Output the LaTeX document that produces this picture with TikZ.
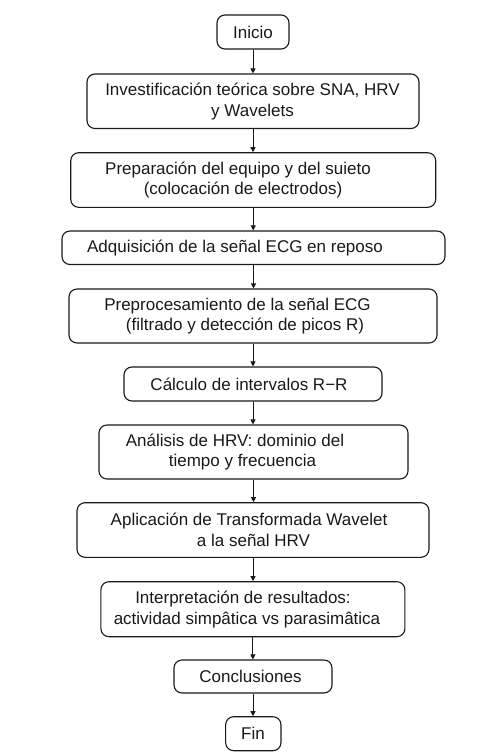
\documentclass[tikz,border=0pt]{standalone}
\usepackage{fontspec}
\setmainfont{Liberation Sans}
\usetikzlibrary{arrows.meta}
\begin{document}
\begin{tikzpicture}[x=1pt,y=-1pt,
  box/.style={draw=black!90,line width=1.1pt,rounded corners=8pt,inner sep=0pt},
  txt/.style={align=center,inner sep=0pt,font=\fontsize{17}{20.6}\selectfont,text=black!90},
  arr/.style={draw=black!90,line width=0.9pt,-{Triangle[length=5pt,width=5pt]}}]
\useasboundingbox (0,0) rectangle (504,756);
\fill[white] (0,0) rectangle (504,756);
% boxes
\node[box,minimum width=72pt,minimum height=34pt] (inicio) at (253,32) {};
\node[box,minimum width=332pt,minimum height=54.5pt] (b1) at (253,101.25) {};
\node[box,minimum width=365pt,minimum height=54.6pt] (b2) at (253.2,180) {};
\node[box,minimum width=383pt,minimum height=33.5pt] (b3) at (253.5,247.75) {};
\node[box,minimum width=368pt,minimum height=54pt] (b4) at (253,316) {};
\node[box,minimum width=258pt,minimum height=34pt] (b5) at (253,384) {};
\node[box,minimum width=309pt,minimum height=54pt] (b6) at (253.5,452) {};
\node[box,minimum width=352pt,minimum height=54.6pt] (b7) at (253,530) {};
\node[box,minimum width=304pt,minimum height=55pt] (b8) at (252.9,609.2) {};
\node[box,minimum width=158pt,minimum height=33pt] (b9) at (253,676.5) {};
\node[box,minimum width=55.3pt,minimum height=34pt] (fin) at (253.3,733.7) {};
% texts
\node[txt] (t0) at (253,32) {Inicio};
\node[txt] (t1) at (252.5,101.25) {Investificación teórica sobre SNA, HRV\\y Wavelets};
\node[txt] (t2) at (238,180) {Preparación del equipo y del suieto\\\hspace*{10pt}(colocación de electrodos)};
\node[txt] (t3) at (235,247.75) {Adquisición de la señal ECG en reposo};
\node[txt] (t4) at (237.5,316) {Preprocesamiento de la señal ECG\\\hspace*{15pt}(filtrado y detección de picos R)};
\node[txt] (t5) at (249,384) {Cálculo de intervalos R\textminus R};
\node[txt] (t6) at (235,452) {Análisis de HRV: dominio del\\\hspace*{15pt}tiempo y frecuencia};
\node[txt] (t7) at (249,530) {Aplicación de Transformada Wavelet\\\hspace*{9pt}a la señal HRV};
\node[txt] (t8) at (247,609.2) {Interpretación de resultados:\hspace*{8pt}\\actividad simpâtica vs parasimâtica};
\node[txt] (t9) at (250.5,676.5) {Conclusiones};
\node[txt] (t10) at (253,733.7) {Fin};
% arrows
\foreach \a/\b in {inicio/b1,b1/b2,b2/b3,b3/b4,b4/b5,b5/b6,b6/b7,b7/b8,b8/b9,b9/fin}
  \draw[arr] (\a.south) -- (\a.south |- \b.north);
\end{tikzpicture}
\end{document}
